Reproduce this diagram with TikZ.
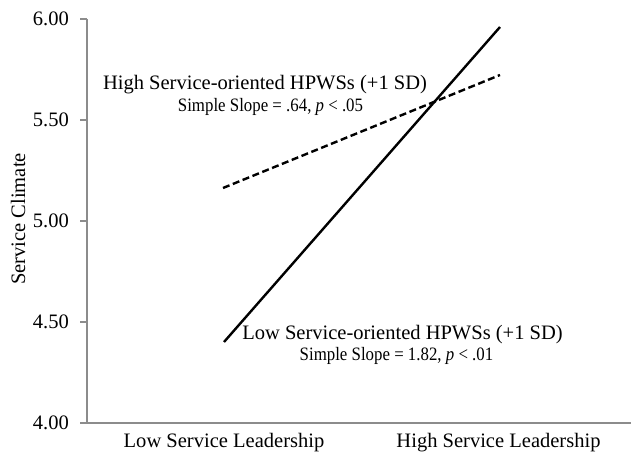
\documentclass[tikz,border=0pt]{standalone}
\usepackage{fontspec}
\setmainfont{Liberation Serif}
\newfontfamily\narrowfont[FakeStretch=0.89]{Liberation Serif}
\begin{document}
\begin{tikzpicture}[x=1bp,y=-1bp,
  axisline/.style={draw=black!45,line width=1.3bp},
  ticklabel/.style={anchor=east,inner sep=0pt,font=\fontsize{20.6pt}{24pt}\selectfont},
  catlabel/.style={anchor=base,inner sep=0pt,font=\fontsize{20.6pt}{24pt}\selectfont},
  biglabel/.style={anchor=base,inner sep=0pt,font=\fontsize{20.6pt}{24pt}\selectfont},
  slopelabel/.style={anchor=base,inner sep=0pt,font=\narrowfont\fontsize{19pt}{22pt}\selectfont},
  dataline/.style={line width=2.4bp,black},
  dashline/.style={line width=2.4bp,black,dash pattern=on 7bp off 3.6bp}
]
\useasboundingbox (0,0) rectangle (631,452);
\fill[white] (0,0) rectangle (631,452);

% axes
\coordinate (ytop) at (87,19);
\coordinate (origin) at (87,423);
\coordinate (xleft) at (80,423);
\coordinate (xright) at (631,423);
\draw[axisline] (ytop) -- (origin);
\draw[axisline] (xleft) -- (xright);
\foreach \v/\yy in {6.00/19,5.50/120,5.00/221,4.50/322}{
  \coordinate (tk\yy) at (80,\yy);
  \coordinate (tke\yy) at (87,\yy);
  \draw[axisline] (tk\yy) -- (tke\yy);
}
\node[ticklabel] (l600) at (69,19) {6.00};
\node[ticklabel] (l550) at (69,120) {5.50};
\node[ticklabel] (l500) at (69,221) {5.00};
\node[ticklabel] (l450) at (69,322) {4.50};
\node[ticklabel] (l400) at (69,423) {4.00};

\node[catlabel] (lowcat) at (224,447) {Low Service Leadership};
\node[catlabel] (highcat) at (498.5,447) {High Service Leadership};

\node[anchor=base,rotate=90,inner sep=0pt,font=\fontsize{20.6pt}{24pt}\selectfont] (ylab) at (25,219) {Service Climate};

% data lines
\coordinate (lowA) at (224,342);
\coordinate (lowB) at (500,27);
\coordinate (highA) at (223,188);
\coordinate (highB) at (500,75);
\draw[dashline] (highA) -- (highB);
\draw[dataline] (lowA) -- (lowB);

% labels
\node[biglabel] (hlab) at (265,90) {High Service-oriented HPWSs (+1 SD)};
\node[slopelabel] (hslope) at (270.5,112) {Simple Slope = .64, \textit{p} < .05};
\node[biglabel] (llab) at (402.5,339) {Low Service-oriented HPWSs (+1 SD)};
\node[slopelabel] (lslope) at (396.5,360) {Simple Slope = 1.82, \textit{p} < .01};
\end{tikzpicture}
\end{document}
